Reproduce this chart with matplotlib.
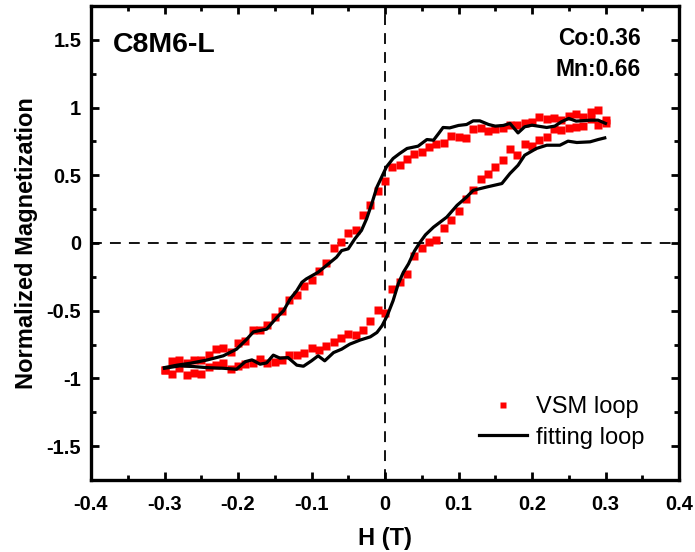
import matplotlib
matplotlib.use("Agg")
import matplotlib.pyplot as plt
from matplotlib.ticker import MultipleLocator

plt.rcParams['font.family'] = ['Liberation Sans', 'DejaVu Sans']

# VSM loop, descending branch (field swept from +0.3 T to -0.3 T)
h_vsm_down = [0.30, 0.29, 0.28, 0.27, 0.26, 0.25, 0.24, 0.23, 0.22, 0.21,
              0.20, 0.19, 0.18, 0.17, 0.16, 0.15, 0.14, 0.13, 0.12, 0.11,
              0.10, 0.09, 0.08, 0.07, 0.06, 0.05, 0.04, 0.03, 0.02, 0.01,
              0.00, -0.01, -0.02, -0.03, -0.04, -0.05, -0.06, -0.07, -0.08, -0.09,
              -0.10, -0.11, -0.12, -0.13, -0.14, -0.15, -0.16, -0.17, -0.18, -0.19,
              -0.20, -0.21, -0.22, -0.23, -0.24, -0.25, -0.26, -0.27, -0.28, -0.29,
              -0.30]
m_vsm_down = [0.910, 0.984, 0.969, 0.932, 0.952, 0.940, 0.910, 0.925, 0.917, 0.932,
              0.893, 0.888, 0.873, 0.873, 0.850, 0.841, 0.828, 0.850, 0.841, 0.776,
              0.784, 0.791, 0.739, 0.730, 0.710, 0.670, 0.658, 0.621, 0.576, 0.562,
              0.458, 0.384, 0.280, 0.206, 0.095, 0.073, 0.006, -0.038, -0.147, -0.206,
              -0.270, -0.320, -0.381, -0.421, -0.500, -0.544, -0.604, -0.641, -0.641, -0.727,
              -0.742, -0.806, -0.772, -0.786, -0.826, -0.865, -0.865, -0.885, -0.861, -0.870,
              -0.937]

# VSM loop, ascending branch (field swept from -0.3 T to +0.3 T)
h_vsm_up = [-0.30, -0.29, -0.28, -0.27, -0.26, -0.25, -0.24, -0.23, -0.22, -0.21,
            -0.20, -0.19, -0.18, -0.17, -0.16, -0.15, -0.14, -0.13, -0.12, -0.11,
            -0.10, -0.09, -0.08, -0.07, -0.06, -0.05, -0.04, -0.03, -0.02, -0.01,
            0.00, 0.01, 0.02, 0.03, 0.04, 0.05, 0.06, 0.07, 0.08, 0.09,
            0.10, 0.11, 0.12, 0.13, 0.14, 0.15, 0.16, 0.17, 0.18, 0.19,
            0.20, 0.21, 0.22, 0.23, 0.24, 0.25, 0.26, 0.27, 0.28, 0.29,
            0.30]
m_vsm_up = [-0.937, -0.964, -0.922, -0.974, -0.957, -0.964, -0.912, -0.902, -0.883, -0.932,
            -0.907, -0.895, -0.883, -0.858, -0.883, -0.876, -0.865, -0.826, -0.826, -0.809,
            -0.779, -0.787, -0.757, -0.732, -0.698, -0.675, -0.683, -0.643, -0.579, -0.495,
            -0.517, -0.342, -0.290, -0.231, -0.098, -0.038, 0.004, 0.021, 0.110, 0.168,
            0.236, 0.324, 0.391, 0.473, 0.510, 0.562, 0.613, 0.695, 0.650, 0.730,
            0.717, 0.762, 0.784, 0.843, 0.836, 0.850, 0.858, 0.865, 0.915, 0.873,
            0.888]

# Fitted loop, descending branch
h_fit_down = [0.300, 0.290, 0.280, 0.260, 0.250, 0.240, 0.231, 0.220, 0.200, 0.190,
              0.181, 0.170, 0.161, 0.150, 0.141, 0.129, 0.120, 0.111, 0.100, 0.088,
              0.079, 0.073, 0.066, 0.057, 0.045, 0.030, 0.020, 0.011, 0.002, -0.004,
              -0.011, -0.018, -0.025, -0.032, -0.041, -0.050, -0.059, -0.066, -0.077, -0.091,
              -0.107, -0.113, -0.120, -0.129, -0.138, -0.147, -0.161, -0.179, -0.188, -0.202,
              -0.220, -0.243, -0.265, -0.283, -0.300]
m_fit_down = [0.883, 0.907, 0.907, 0.900, 0.920, 0.895, 0.863, 0.853, 0.870, 0.858,
              0.813, 0.883, 0.868, 0.863, 0.875, 0.902, 0.902, 0.875, 0.868, 0.850,
              0.853, 0.809, 0.759, 0.764, 0.715, 0.698, 0.661, 0.624, 0.562, 0.493,
              0.413, 0.290, 0.179, 0.093, 0.031, -0.043, -0.056, -0.105, -0.154, -0.216,
              -0.265, -0.290, -0.352, -0.413, -0.500, -0.549, -0.636, -0.656, -0.710, -0.784,
              -0.833, -0.865, -0.888, -0.902, -0.920]

# Fitted loop, ascending branch
h_fit_up = [-0.300, -0.279, -0.261, -0.243, -0.220, -0.202, -0.190, -0.181, -0.170, -0.161,
            -0.152, -0.143, -0.132, -0.120, -0.111, -0.100, -0.091, -0.082, -0.070, -0.059,
            -0.048, -0.034, -0.020, -0.011, -0.004, 0.003, 0.011, 0.018, 0.025, 0.032,
            0.040, 0.047, 0.055, 0.066, 0.084, 0.098, 0.111, 0.120, 0.138, 0.159,
            0.170, 0.181, 0.190, 0.206, 0.220, 0.238, 0.249, 0.261, 0.279, 0.290,
            0.299]
m_fit_up = [-0.925, -0.907, -0.912, -0.920, -0.925, -0.932, -0.876, -0.863, -0.895, -0.885,
            -0.828, -0.850, -0.846, -0.902, -0.910, -0.870, -0.833, -0.870, -0.809, -0.784,
            -0.747, -0.717, -0.693, -0.661, -0.611, -0.537, -0.426, -0.302, -0.216, -0.154,
            -0.060, 0.000, 0.060, 0.117, 0.191, 0.278, 0.339, 0.389, 0.413, 0.439,
            0.513, 0.574, 0.648, 0.698, 0.722, 0.722, 0.752, 0.742, 0.747, 0.764,
            0.776]

x_ticks = [-0.4, -0.3, -0.2, -0.1, 0, 0.1, 0.2, 0.3, 0.4]
x_ticklabels = ['-0.4', '-0.3', '-0.2', '-0.1', '0', '0.1', '0.2', '0.3', '0.4']
y_ticks = [-1.5, -1, -0.5, 0, 0.5, 1, 1.5]
y_ticklabels = ['-1.5', '-1', '-0.5', '0', '0.5', '1', '1.5']

W, H = 695, 552
fig = plt.figure(figsize=(W / 100, H / 100), dpi=100)
ax = fig.add_axes([91 / W, (H - 480) / H, (679 - 91) / W, (480 - 6) / H])

ax.set_xlim(-0.4, 0.4)
ax.set_ylim(-1.75, 1.75)

# guide lines through the origin
ax.axhline(0, color='black', lw=1.3, ls=(0, (6, 4.5)), zorder=1)
ax.axvline(0, color='black', lw=1.3, ls=(0, (6, 4.5)), zorder=1)

ax.plot(h_vsm_down, m_vsm_down, ls='none', marker='s', ms=5.2, color='#ff0000',
        mec='none', zorder=3, label='VSM loop')
ax.plot(h_vsm_up, m_vsm_up, ls='none', marker='s', ms=5.2, color='#ff0000',
        mec='none', zorder=3)
ax.plot(h_fit_down, m_fit_down, color='black', lw=2.3, zorder=4, label='fitting loop')
ax.plot(h_fit_up, m_fit_up, color='black', lw=2.3, zorder=4)

ax.set_xticks(x_ticks)
ax.set_xticklabels(x_ticklabels)
ax.set_yticks(y_ticks)
ax.set_yticklabels(y_ticklabels)
ax.xaxis.set_minor_locator(MultipleLocator(0.05))
ax.yaxis.set_minor_locator(MultipleLocator(0.25))
ax.tick_params(which='both', direction='in', top=True, right=True, width=2)
ax.tick_params(which='major', length=6, labelsize=14.5)
ax.tick_params(axis='x', which='major', pad=10.5)
ax.tick_params(axis='y', which='major', pad=7)
ax.tick_params(which='minor', length=3.5)
for lab in ax.get_xticklabels() + ax.get_yticklabels():
    lab.set_fontweight('bold')
for sp in ax.spines.values():
    sp.set_linewidth(2.4)

ax.set_xlabel('H (T)', fontsize=17, fontweight='bold', labelpad=10)
ax.set_ylabel('Normalized Magnetization', fontsize=17, fontweight='bold', labelpad=6)

ax.text(0.037, 0.918, 'C8M6-L', transform=ax.transAxes, fontsize=20.5,
        fontweight='bold', ha='left', va='center')
ax.text(0.935, 0.932, 'Co:0.36', transform=ax.transAxes, fontsize=16.5,
        fontweight='bold', ha='right', va='center')
ax.text(0.935, 0.865, 'Mn:0.66', transform=ax.transAxes, fontsize=16.5,
        fontweight='bold', ha='right', va='center')

leg = ax.legend(loc='lower right', bbox_to_anchor=(0.958, 0.046), borderaxespad=0,
                frameon=False, fontsize=17, handlelength=2.05, markerscale=0.85,
                handletextpad=0.4, labelspacing=0.36)

fig.savefig('out.png', dpi=100)
